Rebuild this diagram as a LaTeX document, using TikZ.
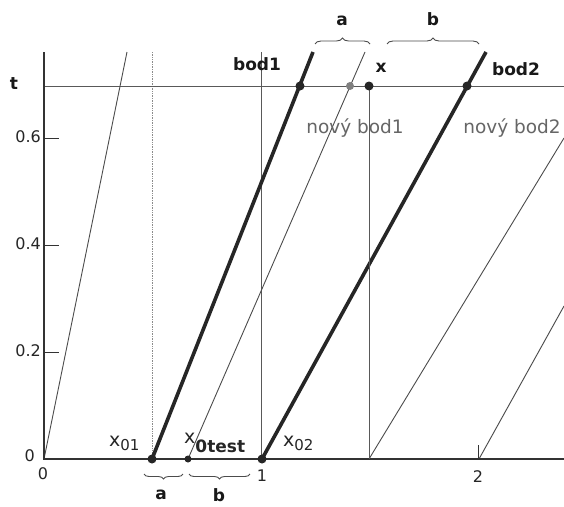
\documentclass[tikz,border=0pt]{standalone}
\usepackage{fontspec}
\setmainfont{DejaVu Sans}
\usetikzlibrary{decorations.pathreplacing}
\begin{document}
\begin{tikzpicture}[x=1pt,y=-1pt,
 axisln/.style={line width=1.4pt, draw=black!80},
 thinln/.style={line width=0.9pt, draw=black!70},
 thickln/.style={line width=3.6pt, draw=black!85},
 gridln/.style={line width=0.9pt, draw=black!65},
 faintln/.style={line width=0.7pt, draw=black!45, densely dotted},
 dotb/.style={circle, fill=black!85, inner sep=0pt, minimum size=9pt},
 dotg/.style={circle, fill=black!50, inner sep=0pt, minimum size=8pt},
 dots/.style={circle, fill=black!85, inner sep=0pt, minimum size=7pt},
 lbl/.style={font=\fontsize{16}{18}\selectfont, text=black!85, inner sep=0pt},
 xlbl/.style={font=\fontsize{19}{21}\selectfont, text=black!85, inner sep=0pt},
 blbl/.style={font=\fontsize{17}{19}\selectfont\bfseries, text=black!90, inner sep=0pt},
 glbl/.style={font=\fontsize{18.5}{20}\selectfont, text=black!60, inner sep=0pt},
 brc/.style={decorate, decoration={brace, amplitude=6pt}, line width=0.9pt, draw=black!70},
]
\useasboundingbox (0,0) rectangle (564,506);
\fill[white] (0,0) rectangle (564,506);

% key coordinates
\coordinate (O) at (44,459);
\coordinate (Ytop) at (44,52);
\coordinate (Xend) at (564,459);
\coordinate (Tl) at (44,86);
\coordinate (Tr) at (564,86);
\coordinate (V05b) at (152,459); \coordinate (V05t) at (152,52);
\coordinate (V1b) at (261,459);  \coordinate (V1t) at (261,52);
\coordinate (V15b) at (369,459);

% grid lines
\draw[faintln] (V05b) -- (V05t);
\draw[gridln] (V1b) -- (V1t);
\draw[gridln] (Tl) -- (Tr);

% thin characteristic lines
\coordinate (L0t) at (127,52);
\coordinate (N1b) at (188,459); \coordinate (N1t) at (365,52);
\coordinate (N2t) at (564,138);
\coordinate (R2b) at (479,459); \coordinate (R2t) at (564,306);
\draw[thinln] (O) -- (L0t);
\draw[thinln] (N1b) -- (N1t);
\draw[thinln] (V15b) -- (N2t);
\draw[thinln] (R2b) -- (R2t);

% thick lines
\coordinate (B1b) at (152,459); \coordinate (B1t) at (313,52);
\coordinate (B2b) at (262,459); \coordinate (B2t) at (486,52);
\draw[thickln] (B1b) -- (B1t);
\draw[thickln] (B2b) -- (B2t);

% axes
\draw[axisln] (Ytop) -- (O) -- (Xend);
\foreach \yy/\nm in {352/a,245/b,138/c} {
  \coordinate (yt\nm) at (44,\yy);
  \coordinate (yu\nm) at (59,\yy);
  \draw[axisln, line width=1pt] (yt\nm) -- (yu\nm);
}
\coordinate (xt2a) at (478,459); \coordinate (xt2b) at (478,445);
\draw[axisln, line width=1pt] (xt2a) -- (xt2b);

% vertical at x = 1.5 from the t-line dot down
\coordinate (Xdot) at (369,86);
\draw[gridln] (Xdot) -- (V15b);

% dots
\node[dotb] (d01) at (152,459) {};
\node[dots] (d0t) at (188,459) {};
\node[dotb] (d02) at (262,459) {};
\node[dotb] (db1) at (300,86) {};
\node[dotg] (dn1) at (350,86) {};
\node[dotb] (dx) at (369,86) {};
\node[dotb] (db2) at (467,86) {};

% axis labels
\node[blbl] (tl) at (14,84) {t};
\node[lbl, anchor=east] (y6) at (41,137) {0.6};
\node[lbl, anchor=east] (y4) at (41,244) {0.4};
\node[lbl, anchor=east] (y2) at (41,351) {0.2};
\node[lbl, anchor=east] (y0) at (35,456) {0};
\node[lbl] (x0) at (43,474) {0};
\node[lbl] (x1) at (262,476) {1};
\node[lbl] (x2) at (478,477) {2};

% point labels
\node[blbl] (lb1) at (257,64) {bod1};
\node[blbl] (lx) at (381,68) {x};
\node[blbl] (lb2) at (516,69) {bod2};
\node[glbl] (ln1) at (355,128) {nový bod1};
\node[glbl] (ln2) at (512,128) {nový bod2};

\node[xlbl, anchor=base west] (lx01) at (109,446) {x\raisebox{-4pt}{\fontsize{15}{17}\selectfont 01}};
\node[xlbl, anchor=base west] (lx0t) at (184,443) {x\raisebox{-9pt}{\fontsize{17}{19}\selectfont\bfseries 0test}};
\node[xlbl, anchor=base west] (lx02) at (283,446) {x\raisebox{-4pt}{\fontsize{15}{17}\selectfont 02}};

% braces top
\coordinate (ta1) at (315,44); \coordinate (ta2) at (370,44);
\coordinate (tb1) at (387,44); \coordinate (tb2) at (479,44);
\draw[brc] (ta1) -- (ta2);
\draw[brc] (tb1) -- (tb2);
\node[blbl] (lta) at (342,21) {a};
\node[blbl] (ltb) at (433,19) {b};

% braces bottom
\coordinate (ba1) at (144,474); \coordinate (ba2) at (183,474);
\coordinate (bb1) at (189,474); \coordinate (bb2) at (250,474);
\draw[brc, decoration={brace, mirror, amplitude=5pt}] (ba1) -- (ba2);
\draw[brc, decoration={brace, mirror, amplitude=5pt}] (bb1) -- (bb2);
\node[blbl] (lba) at (161,495) {a};
\node[blbl] (lbb) at (219,495) {b};
\end{tikzpicture}
\end{document}
